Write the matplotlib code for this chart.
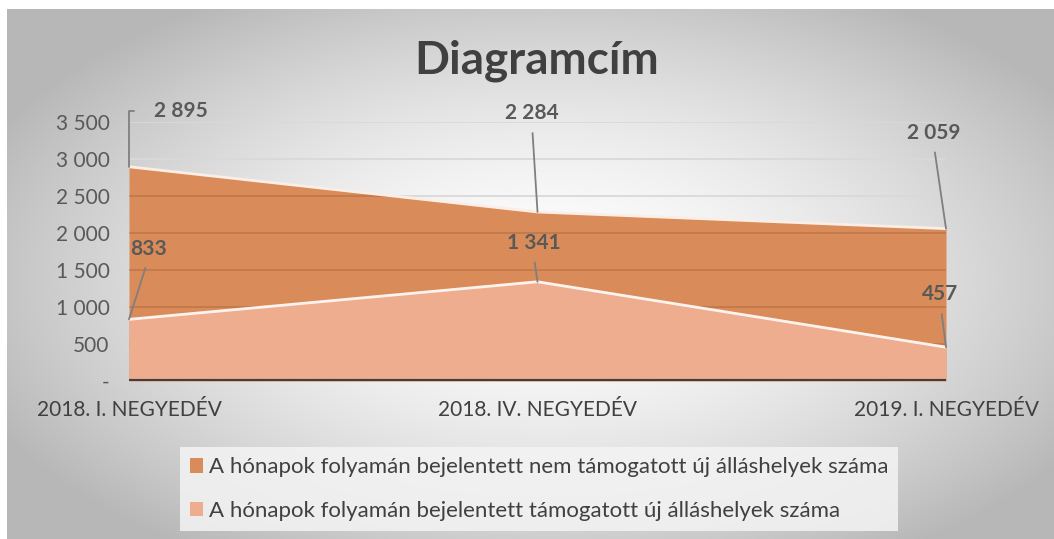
import numpy as np
import matplotlib.pyplot as plt

plt.rcParams['font.family'] = ['Lato', 'DejaVu Sans']

categories = ['2018. I. NEGYEDÉV', '2018. IV. NEGYEDÉV', '2019. I. NEGYEDÉV']
nem_tamogatott = [2895, 2284, 2059]
tamogatott = [833, 1341, 457]
yticks = [0, 500, 1000, 1500, 2000, 2500, 3000, 3500]
ytick_labels = ['-', '500', '1 000', '1 500', '2 000', '2 500', '3 000', '3 500']
series_names = ['A hónapok folyamán bejelentett nem támogatott új álláshelyek száma',
                'A hónapok folyamán bejelentett támogatott új álláshelyek száma']

dark = '#D98C5A'
light = '#EFAD8F'
txt = '#595959'

fig = plt.figure(figsize=(10.54, 5.39), dpi=100)
fig.patch.set_facecolor('white')

# radial gradient background
bg = fig.add_axes([7 / 1054, 0, 1 - 7 / 1054, 1 - 9 / 539], zorder=-10)
yy, xx = np.mgrid[0:530, 0:1047]
r = np.sqrt(((xx - 540) / 620.0) ** 2 + ((yy - 270) / 330.0) ** 2)
shade = 255 - 72 * np.clip(r, 0, 1) ** 1.6
img = np.dstack([shade, shade, shade]).astype(np.uint8)
bg.imshow(img, aspect='auto', interpolation='bilinear')
bg.axis('off')

ax = fig.add_axes([129 / 1054, 1 - 381 / 539, (946 - 129) / 1054, 259 / 539])
ax.set_facecolor('none')
x = np.arange(len(categories))

for yt in yticks[1:]:
    ax.axhline(yt, color='#d9d9d9', lw=1.3, zorder=0)

area_dark = ax.fill_between(x, 0, nem_tamogatott, color=dark, lw=0, zorder=1)
ax.plot(x, nem_tamogatott, color='#fbeee6', lw=2, zorder=2)
ax.fill_between(x, 0, tamogatott, color=light, lw=0, zorder=3)
ax.plot(x, tamogatott, color='#fdf3ee', lw=2, zorder=4)

# faint gridlines seen through the dark area
clip = area_dark.get_paths()[0]
for yt in yticks[1:]:
    gl = ax.axhline(yt, color='#8a4520', lw=1.2, alpha=0.3, zorder=1.5)
    gl.set_clip_path(clip, ax.transData)

ax.axhline(0, color='#404040', lw=3, zorder=6)

ax.set_xlim(0, 2)
ax.set_ylim(0, 3500)
ax.set_yticks(yticks)
ax.set_yticklabels(ytick_labels, fontsize=15, color=txt)
ax.set_xticks(x)
ax.set_xticklabels(categories, fontsize=15, color='#404040')
ax.tick_params(length=0)
ax.tick_params(axis='y', pad=14)
ax.tick_params(axis='x', pad=14)
for s in ax.spines.values():
    s.set_visible(False)

# data labels (offsets in points from each data point)
lab_kw = dict(fontsize=15, fontweight='bold', color=txt, ha='center', va='center',
              textcoords='offset points', zorder=10)
line_kw = dict(arrowstyle='-', color='#7f7f7f', lw=1.3, shrinkA=0, shrinkB=0)

def fmt(v):
    return f'{v:,}'.replace(',', ' ')

ax.annotate(fmt(nem_tamogatott[0]), (x[0], nem_tamogatott[0]), xytext=(37, 40),
            arrowprops=dict(line_kw, connectionstyle='angle,angleA=0,angleB=90,rad=0',
                            relpos=(0, 0.5), shrinkA=12), **lab_kw)
offsets_dark = [None, (-4, 71), (-9, 69)]
offsets_light = [(14, 51), (-3, 28), (-4, 38)]
for i in (1, 2):
    ax.annotate(fmt(nem_tamogatott[i]), (x[i], nem_tamogatott[i]), xytext=offsets_dark[i],
                arrowprops=dict(line_kw, relpos=(0.5, 0), shrinkA=5), **lab_kw)
for i in range(3):
    ax.annotate(fmt(tamogatott[i]), (x[i], tamogatott[i]), xytext=offsets_light[i],
                arrowprops=dict(line_kw, relpos=(0.5, 0), shrinkA=5), **lab_kw)

fig.text(537 / 1054, 1 - 61 / 539, 'Diagramcím', fontsize=33, fontweight='bold',
         color='#404040', ha='center', va='center')

handles = [plt.Rectangle((0, 0), 1, 1, facecolor=dark, edgecolor='none'),
           plt.Rectangle((0, 0), 1, 1, facecolor=light, edgecolor='none')]
leg = fig.legend(handles, series_names, loc='center', bbox_to_anchor=(539 / 1054, 1 - 489 / 539),
                 fontsize=16, frameon=True, fancybox=False, handlelength=0.6, handleheight=0.6,
                 handletextpad=0.25, labelspacing=1.05, borderpad=0.45, borderaxespad=0,
                 labelcolor='#404040')
leg.get_frame().set_facecolor('#f4f4f4')
leg.get_frame().set_edgecolor('none')
leg.get_frame().set_alpha(0.85)

fig.savefig('out.png', dpi=100)
